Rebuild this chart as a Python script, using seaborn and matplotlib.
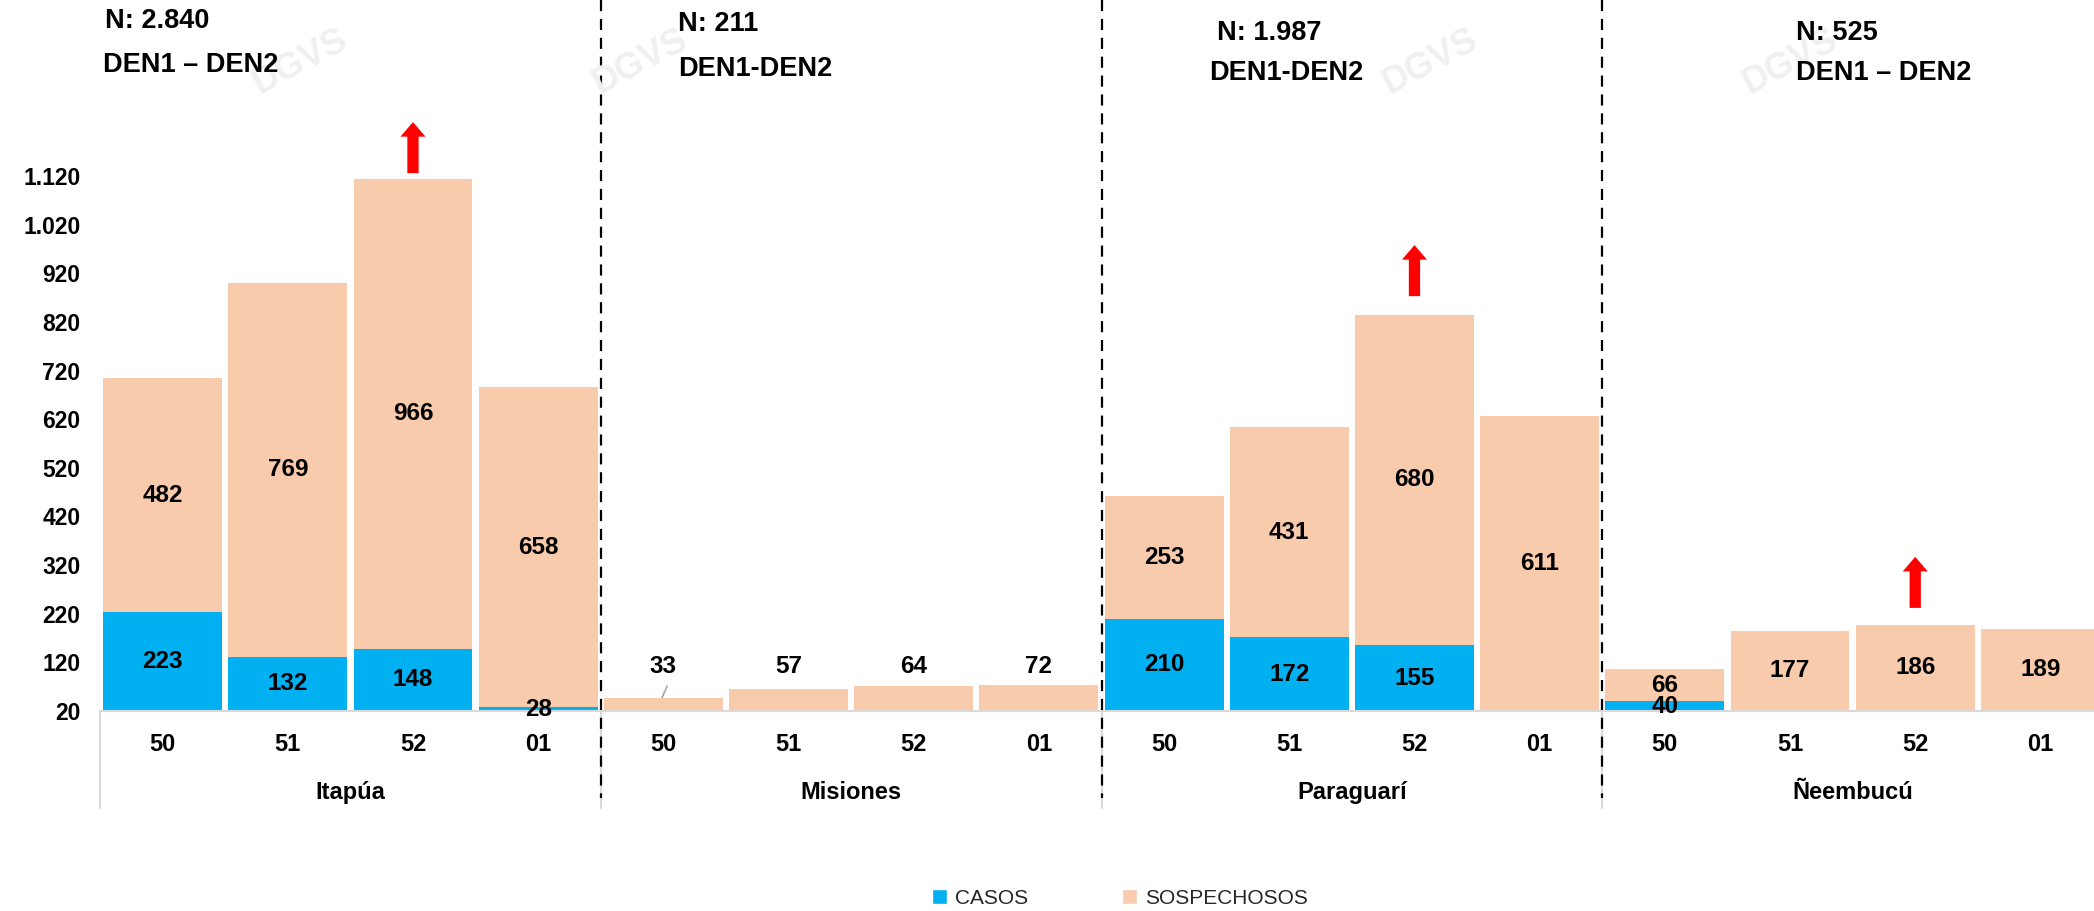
import matplotlib
matplotlib.use('Agg')
import matplotlib.pyplot as plt
import matplotlib.transforms as mtransforms
from matplotlib.patches import FancyArrow, Patch
import seaborn as sns
import pandas as pd
import numpy as np

# ---------------- data ----------------
departments = ['Itapúa', 'Misiones', 'Paraguarí', 'Ñeembucú']
weeks = ['50', '51', '52', '01']
casos = [223, 132, 148, 28,
         14, 9, 7, 1,
         210, 172, 155, 15,
         40, 8, 11, 0]
sospechosos = [482, 769, 966, 658,
               33, 57, 64, 72,
               253, 431, 680, 611,
               66, 177, 186, 189]
casos_label_shown = [True, True, True, True,
                     False, False, False, False,
                     True, True, True, False,
                     True, False, False, False]
n_totals = ['N: 2.840', 'N: 211', 'N: 1.987', 'N: 525']
serotypes = ['DEN1 – DEN2', 'DEN1-DEN2', 'DEN1-DEN2', 'DEN1 – DEN2']
arrow_bars = [2, 10, 14]
y_ticks = list(range(20, 1121, 100))

BLUE = '#00B0F0'
PEACH = '#F8CBAD'
W, H = 2094, 911

rows = []
for gi, d in enumerate(departments):
    for wi, w in enumerate(weeks):
        i = gi * 4 + wi
        rows.append(dict(key=f'{d}|{w}', dept=d, week=w, casos=casos[i],
                         sosp=sospechosos[i], total=casos[i] + sospechosos[i]))
df = pd.DataFrame(rows)
keys = list(df['key'])

sns.set_theme(style='white')
plt.rcParams['font.family'] = ['Liberation Sans', 'DejaVu Sans']

fig = plt.figure(figsize=(W / 100, H / 100), dpi=100)
ax = fig.add_axes([100 / W, 200 / H, 2003 / W, 711 / H])

sns.barplot(data=df, x='key', y='total', order=keys, color=PEACH, saturation=1,
            width=0.95, errorbar=None, linewidth=0, ax=ax, zorder=2)
sns.barplot(data=df, x='key', y='casos', order=keys, color=BLUE, saturation=1,
            width=0.95, errorbar=None, linewidth=0, ax=ax, zorder=3)

ymin, ymax = 20, 1482
ax.set_ylim(ymin, ymax)
ax.set_xlim(-0.5, 15.5)
ax.set_xlabel('')
ax.set_ylabel('')

ax.set_yticks(y_ticks)
ax.set_yticklabels([f'{v:,}'.replace(',', '.') for v in y_ticks],
                   fontsize=16.5, fontweight='bold', color='black')
ax.set_xticks(range(len(keys)))
ax.set_xticklabels(list(df['week']), fontsize=17, fontweight='bold', color='black')
ax.tick_params(axis='x', length=0, pad=16)
ax.tick_params(axis='y', length=0, pad=14)
for s in ['top', 'right', 'left']:
    ax.spines[s].set_visible(False)
ax.spines['bottom'].set_color('#D9D9D9')
ax.spines['bottom'].set_linewidth(1.5)
ax.spines['bottom'].set_zorder(4)
ax.grid(False)

# data labels
for i, r in df.iterrows():
    c, s = r['casos'], r['sosp']
    gi = i // 4
    if casos_label_shown[i] and c > ymin:
        ax.text(i, (ymin + c) / 2, f'{c}', ha='center', va='center',
                fontsize=17.5, fontweight='bold', color='black', zorder=6)
    if gi == 1:
        ax.text(i, 111, f'{s}', ha='center', va='center',
                fontsize=17.5, fontweight='bold', color='black', zorder=6)
    else:
        lo = max(c, ymin)
        ax.text(i, (lo + c + s) / 2, f'{s}', ha='center', va='center',
                fontsize=17.5, fontweight='bold', color='black', zorder=6)

# leader line of the Misiones 50 label
ax.plot([4.03, 3.99], [71, 48], color='#A6A6A6', lw=1.2, zorder=6)

# red arrows
arrow_gaps = [12, 38, 35]
for idx, gap in zip(arrow_bars, arrow_gaps):
    top = df.loc[idx, 'total']
    ax.add_patch(FancyArrow(idx, top + gap, 0, 105, width=0.09, head_width=0.2,
                            head_length=30, length_includes_head=True,
                            color='#FF0000', lw=0, zorder=6))

# category separators and dashed group dividers
trans = mtransforms.blended_transform_factory(ax.transData, ax.transAxes)
for xb in [-0.5, 3.5, 7.5, 11.5, 15.5]:
    ax.plot([xb, xb], [0, -0.136], transform=trans, color='#D9D9D9', lw=1.5,
            clip_on=False, zorder=1)
for xb in [3.5, 7.5, 11.5]:
    ax.plot([xb, xb], [1.0, -0.122], transform=trans, color='black', lw=1.6,
            linestyle=(0, (5, 3.5)), clip_on=False, zorder=7)

for gi, d in enumerate(departments):
    ax.text(gi * 4 + 1.5, -0.115, d, transform=trans, ha='center', va='center',
            fontsize=17, fontweight='bold', color='black')

# header texts per department
title_pos = [((105, 21), (103, 65)), ((678, 24), (678, 69)),
             ((1217, 33), (1209, 73)), ((1796, 33), (1796, 73))]
for (p1, p2), nt, st in zip(title_pos, n_totals, serotypes):
    fig.text(p1[0] / W, 1 - p1[1] / H, nt, ha='left', va='center',
             fontsize=19.5, fontweight='bold', color='black', zorder=5)
    fig.text(p2[0] / W, 1 - p2[1] / H, st, ha='left', va='center',
             fontsize=19.5, fontweight='bold', color='black', zorder=5)

# faint watermark
for wx, wy in [(300, 62), (640, 62), (1430, 62), (1790, 62)]:
    fig.text(wx / W, 1 - wy / H, 'DGVS', ha='center', va='center', rotation=28,
             fontsize=26, fontweight='bold', color='#F0F0F0', zorder=0)

# legend
handles = [Patch(facecolor=BLUE, label='CASOS'),
           Patch(facecolor=PEACH, label='SOSPECHOSOS')]
fig.legend(handles=handles, loc='center', bbox_to_anchor=(1120 / W, 13 / H), ncol=2,
           frameon=False, fontsize=15, handlelength=0.7, handleheight=0.7,
           handletextpad=0.4, columnspacing=4.5)

fig.savefig('out.png', dpi=100)
